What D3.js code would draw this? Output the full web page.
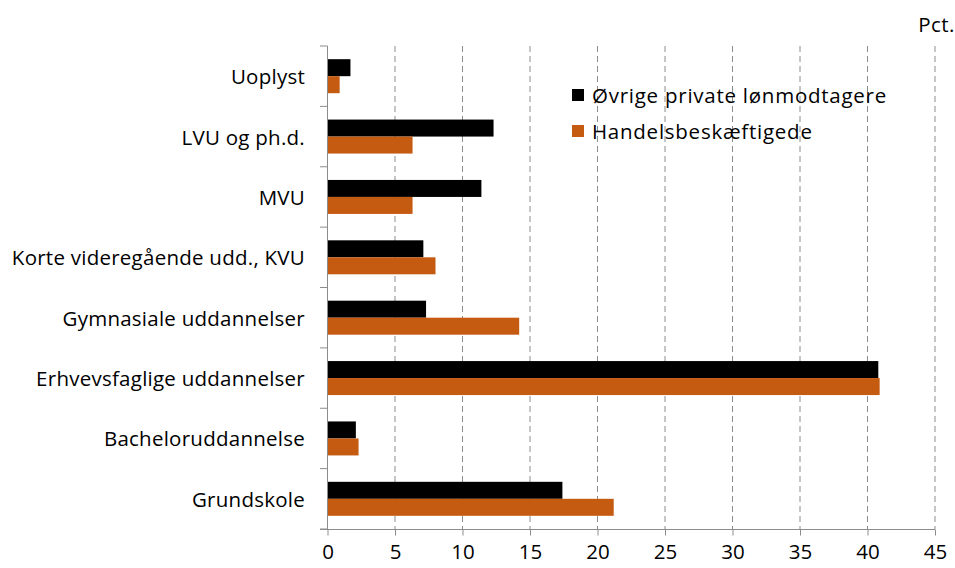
<!DOCTYPE html>
<html><head><meta charset="utf-8">
<script src="https://cdn.jsdelivr.net/npm/d3@7"></script>
<style>body{margin:0;background:#fff}svg{display:block}text{font-family:"Open Sans",sans-serif;fill:#000}</style>
</head><body><svg id="c" width="955" height="568"></svg>
<script>
const categories = ["Uoplyst","LVU og ph.d.","MVU","Korte videregående udd., KVU","Gymnasiale uddannelser","Erhvevsfaglige uddannelser","Bacheloruddannelse","Grundskole"];
const seriesNames = ["Øvrige private lønmodtagere","Handelsbeskæftigede"];
const ovrige = [1.7,12.3,11.4,7.1,7.3,40.8,2.1,17.4];
const handel = [0.9,6.3,6.3,8.0,14.2,40.9,2.3,21.2];
const xTicks = [0,5,10,15,20,25,30,35,40,45];
const colors = ["#000000","#C55A11"];
const FS = 20.5;
const FF = "'Open Sans',sans-serif";

const svg = d3.select("#c");
const x = d3.scaleLinear().domain([0,45]).range([327.5,935]);
const y = d3.scaleBand().domain(categories).range([46,529]).paddingInner(0.437).paddingOuter(0.2185);
const ys = d3.scaleBand().domain(seriesNames).range([0,y.bandwidth()]);

// gridlines
svg.append("g").selectAll("line").data(xTicks.filter(d=>d>0)).join("line")
  .attr("x1",d=>x(d)).attr("x2",d=>x(d)).attr("y1",46).attr("y2",529)
  .attr("stroke","#8c8c8c").attr("stroke-width",1).attr("stroke-dasharray","6,4");

const data = [ovrige, handel];
const g = svg.append("g");
seriesNames.forEach((s,si)=>{
  g.append("g").selectAll("rect").data(categories).join("rect")
    .attr("x",x(0)).attr("y",c=>y(c)+ys(s))
    .attr("width",(c,i)=>x(data[si][i])-x(0)).attr("height",ys.bandwidth())
    .attr("fill",colors[si]);
});

// y axis
const yAxisG = svg.append("g");
yAxisG.append("line").attr("x1",327.5).attr("x2",327.5).attr("y1",46).attr("y2",529).attr("stroke","#8c8c8c");
const bounds = categories.map(c=>y(c)-y.step()*y.paddingInner()/2).concat([529]);
yAxisG.selectAll(".yt").data(bounds).join("line").attr("class","yt")
  .attr("x1",320).attr("x2",327.5).attr("y1",d=>d).attr("y2",d=>d).attr("stroke","#8c8c8c");
yAxisG.selectAll("text").data(categories).join("text")
  .attr("x",305).attr("y",c=>y(c)+y.bandwidth()/2).attr("text-anchor","end")
  .attr("dominant-baseline","central").attr("font-size",FS).attr("letter-spacing",0.25).text(c=>c);

// x axis
const xa = svg.append("g").attr("transform","translate(0,529.5)")
  .call(d3.axisBottom(x).tickValues(xTicks).tickSize(6).tickSizeOuter(0).tickPadding(9));
xa.select(".domain").attr("stroke","#8c8c8c").attr("d","M320,0H935");
xa.selectAll(".tick line").attr("stroke","#8c8c8c");
xa.selectAll(".tick text").attr("font-size",FS).attr("font-family",FF).attr("fill","#000");

svg.append("text").attr("x",955).attr("y",32).attr("text-anchor","end").attr("font-size",FS).attr("letter-spacing",0.5).text("Pct.");

// legend
const lg = svg.append("g");
seriesNames.forEach((s,i)=>{
  const yy = 95 + i*36;
  lg.append("rect").attr("x",572).attr("y",yy-6).attr("width",12).attr("height",12).attr("fill",colors[i]);
  lg.append("text").attr("x",592).attr("y",yy).attr("dominant-baseline","central").attr("font-size",FS).attr("letter-spacing",0.75).text(s);
});
</script></body></html>
